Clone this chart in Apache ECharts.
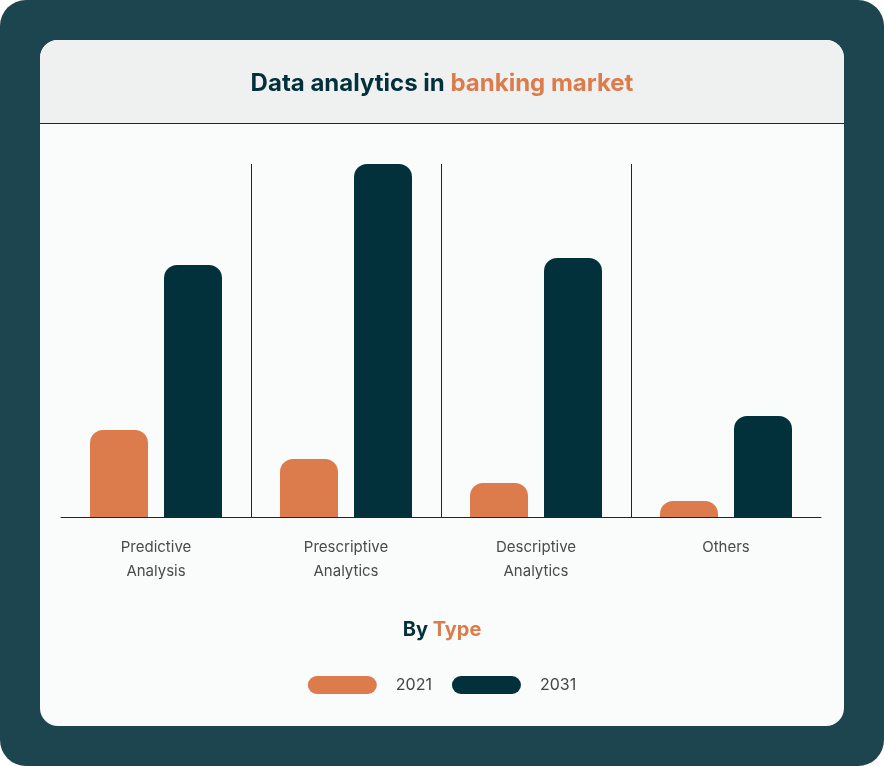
<!DOCTYPE html>
<html>
<head>
<meta charset="utf-8">
<script src="https://cdn.jsdelivr.net/npm/echarts@6/dist/echarts.min.js"></script>
<style>
  html, body { margin: 0; padding: 0; background: #fff; }
  .frame {
    position: relative;
    width: 884px;
    height: 766px;
    background: #1d4550;
    border-radius: 26px;
    overflow: hidden;
  }
  .card {
    position: absolute;
    left: 40px;
    top: 40px;
    width: 804px;
    height: 686px;
    background: #fafcfc;
    border-radius: 18px;
    overflow: hidden;
  }
  .card .head {
    height: 83px;
    background: #eff1f1;
    border-bottom: 1px solid #03313b;
  }
  #chart {
    position: absolute;
    left: 0;
    top: 0;
    width: 884px;
    height: 766px;
  }
</style>
</head>
<body>
<div class="frame">
  <div class="card"><div class="head"></div></div>
  <div id="chart"></div>
</div>
<script>
const categories = ['Predictive\nAnalysis', 'Prescriptive\nAnalytics', 'Descriptive\nAnalytics', 'Others']
const years = ['2021', '2031']
const values2021 = [8.7, 5.8, 3.4, 1.6]
const values2031 = [25.2, 35.3, 25.9, 10.1]

const dark = '#03313b'
const orange = '#dc7b4b'
const font = 'Inter'

const chart = echarts.init(document.getElementById('chart'))

const option = {
  backgroundColor: 'transparent',
  textStyle: { fontFamily: font },
  title: [
    {
      text: '{a|Data analytics in }{b|banking market}',
      left: 'center',
      top: 67,
      textStyle: {
        rich: {
          a: { fontFamily: font, fontSize: 24, fontWeight: 'bold', color: dark },
          b: { fontFamily: font, fontSize: 24, fontWeight: 'bold', color: orange }
        }
      }
    },
    {
      text: '{a|By }{b|Type}',
      left: 'center',
      top: 615,
      textStyle: {
        rich: {
          a: { fontFamily: font, fontSize: 20, fontWeight: 'bold', color: dark },
          b: { fontFamily: font, fontSize: 20, fontWeight: 'bold', color: orange }
        }
      }
    }
  ],
  legend: {
    data: years,
    left: 'center',
    top: 671,
    itemWidth: 69,
    itemHeight: 18,
    itemGap: 20,
    icon: 'path://M9,0 H60 A9,9 0 0 1 60,18 H9 A9,9 0 0 1 9,0 Z',
    textStyle: {
      fontFamily: font,
      fontSize: 16,
      color: '#444',
      padding: [0, 0, 0, 14]
    }
  },
  grid: {
    left: 61,
    right: 63,
    top: 164,
    bottom: 249
  },
  xAxis: {
    type: 'category',
    data: categories,
    axisTick: { show: false },
    axisLine: { lineStyle: { color: dark, width: 1 } },
    axisLabel: {
      margin: 18,
      fontFamily: font,
      fontSize: 15,
      lineHeight: 24,
      color: '#4a4a4a'
    },
    splitLine: {
      show: true,
      showMinLine: false,
      showMaxLine: false,
      lineStyle: { color: dark, width: 1 }
    }
  },
  yAxis: {
    type: 'value',
    min: 0,
    max: 35.3,
    show: false,
    splitLine: { show: false }
  },
  series: [
    {
      name: years[0],
      type: 'bar',
      data: values2021,
      barWidth: 58,
      barGap: '27.6%',
      itemStyle: { color: orange, borderRadius: [13, 13, 0, 0] }
    },
    {
      name: years[1],
      type: 'bar',
      data: values2031,
      barWidth: 58,
      barGap: '27.6%',
      itemStyle: { color: dark, borderRadius: [13, 13, 0, 0] }
    }
  ]
}

chart.setOption(option)
</script>
</body>
</html>
